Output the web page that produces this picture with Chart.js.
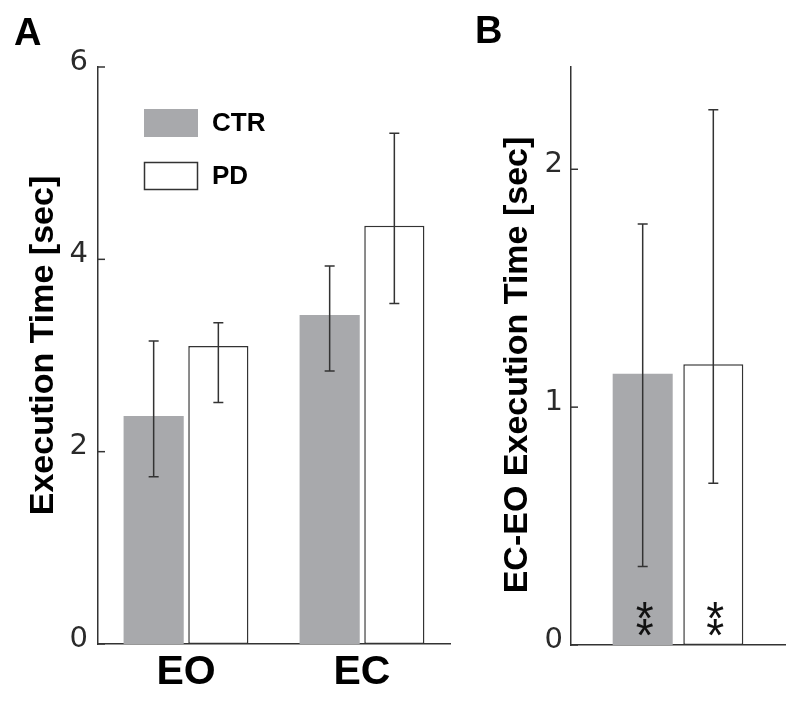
<!DOCTYPE html>
<html>
<head>
<meta charset="utf-8">
<script src="https://cdn.jsdelivr.net/npm/chart.js@4.4.1/dist/chart.umd.min.js"></script>
<style>
  body { margin: 0; background: #fff; }
  #wrap { position: relative; width: 800px; height: 704px; overflow: hidden; }
  canvas { position: absolute; top: 0; }
  #chartA { left: 0; }
  #chartB { left: 460px; }
  .letter { position: absolute; font: bold 38px "Liberation Sans", Arial, sans-serif; color: #000; line-height: 1; }
</style>
</head>
<body>
<div id="wrap">
  <canvas id="chartA" width="460" height="704"></canvas>
  <canvas id="chartB" width="340" height="704"></canvas>
  <div class="letter" style="left:14px; top:13px;">A</div>
  <div class="letter" style="left:475px; top:11px;">B</div>
</div>
<script>
// Panel A: execution time per condition
const groups = ['EO', 'EC'];
const ctrTime = [2.37, 3.42];
const pdTime = [3.10, 4.35];
const ctrLow = [1.74, 2.84];
const ctrHigh = [3.15, 3.93];
const pdLow = [2.51, 3.54];
const pdHigh = [3.34, 5.31];
const ticksA = [0, 2, 4, 6];

// Panel B: EC-EO difference
const diffGroups = [''];
const ctrDiff = [1.14];
const pdDiff = [1.18];
const ctrDiffLow = [0.33];
const ctrDiffHigh = [1.77];
const pdDiffLow = [0.68];
const pdDiffHigh = [2.25];
const diffMarks = ['**', '**'];
const ticksB = [0, 1, 2];

const GRAY = '#a8a9ac';
const INK = '#333333';
const FONT = '"Liberation Sans", Arial, Helvetica, sans-serif';
const TICK_FONT = '"DejaVu Sans", "Liberation Sans", sans-serif';

// error bars drawn at each bar's centre
const errorBars = {
  id: 'errorBars',
  afterDatasetsDraw(chart) {
    const ctx = chart.ctx;
    const y = chart.scales.y;
    ctx.save();
    ctx.strokeStyle = INK;
    ctx.lineWidth = 1.5;
    chart.data.datasets.forEach((ds, i) => {
      chart.getDatasetMeta(i).data.forEach((bar, j) => {
        const top = y.getPixelForValue(ds.errHigh[j]);
        const bot = y.getPixelForValue(ds.errLow[j]);
        ctx.beginPath();
        ctx.moveTo(bar.x, top); ctx.lineTo(bar.x, bot);
        ctx.moveTo(bar.x - 5, top); ctx.lineTo(bar.x + 5, top);
        ctx.moveTo(bar.x - 5, bot); ctx.lineTo(bar.x + 5, bot);
        ctx.stroke();
      });
    });
    ctx.restore();
  }
};

// short tick marks pointing into the plot
const innerTicks = {
  id: 'innerTicks',
  afterDraw(chart) {
    const ctx = chart.ctx;
    const y = chart.scales.y;
    const left = chart.chartArea.left;
    ctx.save();
    ctx.strokeStyle = INK;
    ctx.lineWidth = 1.5;
    y.ticks.forEach(t => {
      const py = y.getPixelForValue(t.value);
      ctx.beginPath();
      ctx.moveTo(left, py); ctx.lineTo(left + 7, py);
      ctx.stroke();
    });
    ctx.restore();
  }
};

// rotated y title, placed a little off the axis centre like the original
const yTitle = {
  id: 'yTitle',
  afterDraw(chart, args, opts) {
    const ctx = chart.ctx;
    const { top, bottom } = chart.chartArea;
    ctx.save();
    ctx.translate(opts.x, (top + bottom) / 2 + opts.dy);
    ctx.rotate(-Math.PI / 2);
    ctx.font = 'bold 34px ' + FONT;
    ctx.fillStyle = '#000';
    ctx.textAlign = 'center';
    ctx.textBaseline = 'alphabetic';
    ctx.fillText(opts.text, 0, 0);
    ctx.restore();
  }
};

const boxLegend = {
  id: 'boxLegend',
  afterDraw(chart) {
    const ctx = chart.ctx;
    ctx.save();
    ctx.font = 'bold 26px ' + FONT;
    ctx.textBaseline = 'middle';
    chart.data.datasets.forEach((ds, i) => {
      const bx = 144, by = 109 + i * 53;
      ctx.fillStyle = ds.backgroundColor;
      ctx.fillRect(bx, by, 54, 28);
      if (ds.borderWidth) {
        ctx.strokeStyle = ds.borderColor;
        ctx.lineWidth = 1.5;
        ctx.strokeRect(bx + 0.5, by + 0.5, 53, 27);
      }
      ctx.fillStyle = '#000';
      ctx.fillText(ds.label, 212, by + 15);
    });
    ctx.restore();
  }
};

const sigMarks = {
  id: 'sigMarks',
  afterDatasetsDraw(chart) {
    const ctx = chart.ctx;
    const zero = chart.scales.y.getPixelForValue(0);
    ctx.save();
    ctx.font = '46px ' + FONT;
    ctx.fillStyle = '#111';
    ctx.textAlign = 'center';
    ctx.textBaseline = 'alphabetic';
    const m = ctx.measureText('*');
    const shift = (m.actualBoundingBoxAscent - m.actualBoundingBoxDescent) / 2;
    chart.data.datasets.forEach((ds, i) => {
      chart.getDatasetMeta(i).data.forEach(bar => {
        diffMarks[i].split('').forEach((s, k) => {
          ctx.fillText(s, bar.x + 2, zero - 35 + k * 17 + shift);
        });
      });
    });
    ctx.restore();
  }
};

function yAxis(min, max, ticks, width, tickPad) {
  return {
    min: min, max: max,
    afterFit: s => { s.width = width; },
    afterBuildTicks: s => { s.ticks = ticks.map(v => ({ value: v })); },
    grid: { display: false, drawTicks: false },
    border: { display: true, color: INK, width: 1.5 },
    ticks: { color: '#2a2a2a', padding: tickPad, labelOffset: -5, font: { family: TICK_FONT, size: 29, weight: 'normal' } },
    title: { display: false }
  };
}

function xAxis(height, showLabels) {
  return {
    afterFit: s => { s.height = height; },
    grid: { display: false, drawTicks: false },
    border: { display: true, color: INK, width: 1.5 },
    ticks: { display: showLabels, color: '#000', padding: 4, font: { family: FONT, size: 41, weight: 'bold' } }
  };
}

new Chart(document.getElementById('chartA'), {
  type: 'bar',
  data: {
    labels: groups,
    datasets: [
      { label: 'CTR', data: ctrTime, errLow: ctrLow, errHigh: ctrHigh,
        backgroundColor: GRAY, borderWidth: 0 },
      { label: 'PD', data: pdTime, errLow: pdLow, errHigh: pdHigh,
        backgroundColor: '#ffffff', borderColor: INK, borderWidth: 1.5, borderSkipped: false }
    ]
  },
  options: {
    responsive: false,
    animation: false,
    layout: { padding: { left: 0, top: 67, right: 10, bottom: 0 } },
    datasets: { bar: { categoryPercentage: 0.735, barPercentage: 0.93 } },
    plugins: {
      legend: { display: false }, tooltip: { enabled: false },
      yTitle: { text: 'Execution Time [sec]', x: 53, dy: -10 }
    },
    scales: {
      x: xAxis(60, true),
      y: yAxis(0, 6, ticksA, 98, 10)
    }
  },
  plugins: [errorBars, innerTicks, boxLegend, yTitle]
});

new Chart(document.getElementById('chartB'), {
  type: 'bar',
  data: {
    labels: diffGroups,
    datasets: [
      { label: 'CTR', data: ctrDiff, errLow: ctrDiffLow, errHigh: ctrDiffHigh,
        backgroundColor: GRAY, borderWidth: 0 },
      { label: 'PD', data: pdDiff, errLow: pdDiffLow, errHigh: pdDiffHigh,
        backgroundColor: '#ffffff', borderColor: INK, borderWidth: 1.5, borderSkipped: false }
    ]
  },
  options: {
    responsive: false,
    animation: false,
    layout: { padding: { left: 0, top: 67, right: 15, bottom: 0 } },
    datasets: { bar: { categoryPercentage: 0.66, barPercentage: 0.85 } },
    plugins: {
      legend: { display: false }, tooltip: { enabled: false },
      yTitle: { text: 'EC-EO Execution Time [sec]', x: 67, dy: 9 }
    },
    scales: {
      x: xAxis(59, false),
      y: yAxis(0, 2.43, ticksB, 111, 8)
    }
  },
  plugins: [errorBars, innerTicks, sigMarks, yTitle]
});
</script>
</body>
</html>
